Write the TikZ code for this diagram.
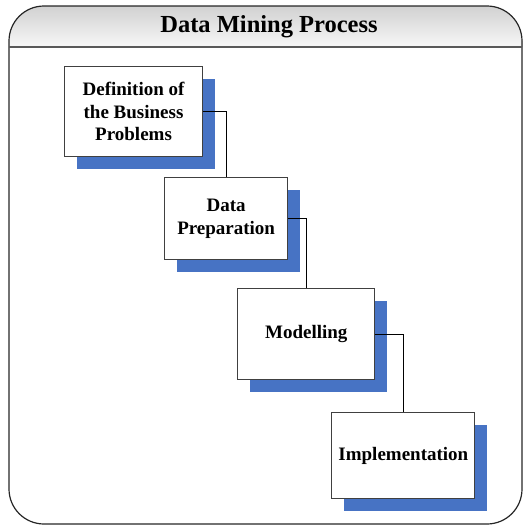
\documentclass[tikz,border=0pt]{standalone}
\usepackage{fontspec}
\setmainfont{Liberation Serif}
\usetikzlibrary{positioning, shadows}
\definecolor{shadowblue}{RGB}{71,115,196}

\begin{document}
\begin{tikzpicture}[
    x=1pt, y=-1pt,
    every node/.style={align=center, font=\bfseries\fontsize{19}{22.5}\selectfont},
    stage/.style={rectangle, draw=black!75, line width=1.1pt, fill=white, inner sep=2pt,
        general shadow={fill=shadowblue, shadow xshift=12.5pt, shadow yshift=-12.5pt}},
    link/.style={draw=black, line width=0.8pt}
]
\useasboundingbox (0,0) rectangle (524,525);
\fill[top color=black!18, bottom color=black!3] (9,47) [rounded corners=35pt] -- (9,6) -- (522,6) [sharp corners] -- (522,47) -- cycle;
\draw[line width=1.2pt, black!85, rounded corners=35pt] (9,6) rectangle (522,524);
\draw[line width=2pt, black!65] (9,47) -- (522,47);
\node (title) at (269,27) [font=\bfseries\fontsize{24.5}{29}\selectfont] {Data Mining Process};

\node (defn) [stage, minimum width=138pt, minimum height=90pt, anchor=north west] at (64,66) {Definition of \\ the Business \\ Problems};
\node (prep) [stage, minimum width=123pt, minimum height=82pt, below right=20pt and -39pt of defn] {Data \\ Preparation};
\node (model) [stage, minimum width=137pt, minimum height=91pt, below right=28pt and -51pt of prep] {Modelling};
\node (impl) [stage, minimum width=143pt, minimum height=86pt, below right=32pt and -44pt of model] {Implementation};

\draw [link] (defn.east) -| (prep.north);
\draw [link] (prep.east) -| (model.north);
\draw [link] (model.east) -| (impl.north);
\end{tikzpicture}
\end{document}
